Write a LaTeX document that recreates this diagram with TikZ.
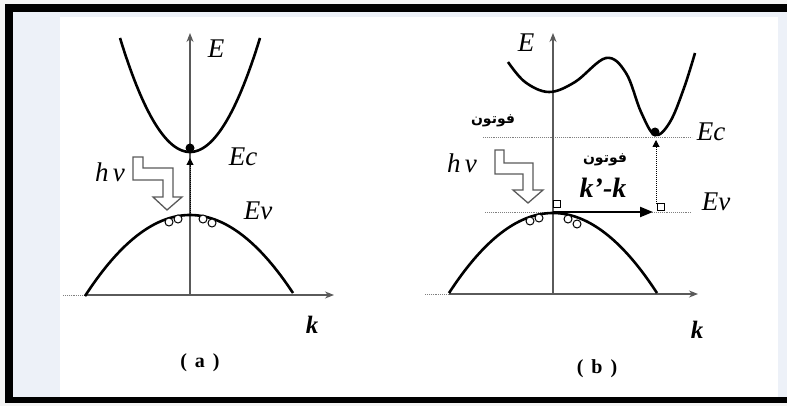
\documentclass[tikz,border=0pt]{standalone}
\usepackage{fontspec}
\setmainfont{Liberation Serif}
\newfontfamily\arabicfont[Script=Arabic]{DejaVu Sans}
\TeXXeTstate=1
\usetikzlibrary{arrows.meta}
\definecolor{bgblue}{HTML}{EDF1F8}
\definecolor{axisgray}{HTML}{5A5A5A}
\definecolor{outer}{HTML}{F4F4F4}
\begin{document}
\begin{tikzpicture}[x=1pt,y=-1pt,
  band/.style={line width=2.6pt, black},
  axisline/.style={line width=1.1pt, axisgray},
  guide/.style={densely dotted, line width=0.9pt, gray},
  hole/.style={circle, draw=black, line width=1pt, inner sep=0pt, minimum size=8pt, fill=white},
  dotnode/.style={circle, fill=black, inner sep=0pt, minimum size=9pt},
  sqnode/.style={rectangle, draw=black, line width=1pt, fill=white, inner sep=0pt, minimum size=7.5pt},
  lab/.style={font=\fontsize{27}{29}\selectfont\itshape, inner sep=0pt},
  klab/.style={font=\fontsize{25}{27}\selectfont\bfseries\itshape, inner sep=0pt},
  kklab/.style={font=\fontsize{28}{30}\selectfont\bfseries\itshape, inner sep=0pt},
  captext/.style={font=\fontsize{20}{22}\selectfont\bfseries, inner sep=0pt},
  arlab/.style={font=\arabicfont\bfseries\fontsize{14}{16}\selectfont, inner sep=0pt},
  photon/.style={draw=axisgray, line width=1.3pt, fill=white, line join=miter},
  axtip/.style={-{Stealth[length=9pt,width=7pt]}},
  uptip/.style={-{Triangle[length=7pt,width=7pt]}},
  ]
\useasboundingbox (0,0) rectangle (787,406);
% background and frame
\fill[outer] (0,0) rectangle (787,406);
\fill[black] (5,4) rectangle (787,403);
\fill[bgblue] (13,12) rectangle (787,397);
\fill[white] (60,17) rectangle (778,397);

% ================= panel (a) =================
\coordinate (a0) at (190,295);
\coordinate (aEtop) at (190,33);
\coordinate (akL) at (63,295);
\coordinate (akS) at (85,295);
\coordinate (akR) at (334,295);
\draw[axisline, axtip] (a0) -- (aEtop);
\draw[guide] (akL) -- (akS);
\draw[axisline, axtip] (akS) -- (akR);

\draw[band] plot[domain=120:260, samples=70] (\x,{152-0.02327*(\x-190)^2});
\draw[band] plot[domain=85:293, samples=70] (\x,{215+0.00735*(\x-190)^2});

\node[dotnode] (aec) at (190,148) {};
\coordinate (aVtop) at (190,213);
\coordinate (aTri) at (190,158);
\draw[densely dotted, line width=1pt, black, uptip] (aVtop) -- (aTri);

\node[hole] (ah1) at (169,222) {};
\node[hole] (ah2) at (178,219) {};
\node[hole] (ah3) at (203,219) {};
\node[hole] (ah4) at (212,223) {};

\draw[photon] (133,157) -- (143,157) -- (143,168) -- (173,168) -- (173,197) -- (182,197)
  -- (167,210) -- (153,197) -- (163,197) -- (163,180) -- (133,180) -- cycle;

\node[lab] (aE) at (216,49) {E};
\node[lab] (aEc) at (243,157) {Ec};
\node[lab] (aEv) at (258,211) {Ev};
\node[lab] (ahv) at (110,172) {h\,ν};
\node[klab] (ak) at (312,325) {k};
\node[captext] (acap) at (200,363) {(\hspace{0.4em}a\hspace{0.4em})};

% ================= panel (b) =================
\coordinate (b0) at (553,294);
\coordinate (bEtop) at (553,33);
\coordinate (bkL) at (425,294);
\coordinate (bkS) at (449,294);
\coordinate (bkR) at (698,294);
\coordinate (bEcL) at (483,137);
\coordinate (bEcR) at (692,137);
\coordinate (bEvL) at (485,212);
\coordinate (bEvR) at (692,212);
\draw[guide] (bEcL) -- (bEcR);
\draw[guide] (bEvL) -- (bEvR);
\draw[axisline, axtip] (b0) -- (bEtop);
\draw[guide] (bkL) -- (bkS);
\draw[axisline, axtip] (bkS) -- (bkR);

\draw[band] plot[smooth, tension=0.6] coordinates {(508,62) (525,82) (549,92) (575,82) (606,58) (626,73) (641,112) (655,135) (670,122) (684,88) (695,53)};
\draw[band] plot[domain=449:657, samples=70] (\x,{213+0.0074*(\x-553)^2});

\node[hole] (bh1) at (530,221) {};
\node[hole] (bh2) at (539,218) {};
\node[hole] (bh3) at (568,219) {};
\node[hole] (bh4) at (577,224) {};

\node[sqnode] (bsq1) at (557,204) {};
\node[sqnode] (bsq2) at (661,207) {};
\node[dotnode] (bec) at (655,132) {};
\coordinate (bVtop) at (553,212);
\coordinate (bArr) at (653,212);
\draw[line width=2.2pt, black, -{Triangle[length=13pt,width=10pt]}] (bVtop) -- (bArr);
\coordinate (bVup) at (656,204);
\coordinate (bTri) at (656,140);
\draw[densely dotted, line width=1pt, black, uptip] (bVup) -- (bTri);

\draw[photon] (495,150) -- (504,150) -- (504,163) -- (533,163) -- (533,190) -- (543,190)
  -- (528,203) -- (513,190) -- (523,190) -- (523,174) -- (495,174) -- cycle;

\node[lab] (bE) at (526,43) {E};
\node[lab] (bEc) at (711,132) {Ec};
\node[lab] (bEv) at (716,202) {Ev};
\node[lab] (bhv) at (462,163) {h\,ν};
\node[klab] (bk) at (697,330) {k};
\node[captext] (bcap) at (597,369) {(\hspace{0.4em}b\hspace{0.4em})};
\node[arlab] (bph1) at (493,121) {\beginR فوتون\endR};
\node[arlab] (bph2) at (605,160) {\beginR فوتون\endR};
\node[kklab] (bkk) at (603,188) {k'-k};
\end{tikzpicture}
\end{document}
